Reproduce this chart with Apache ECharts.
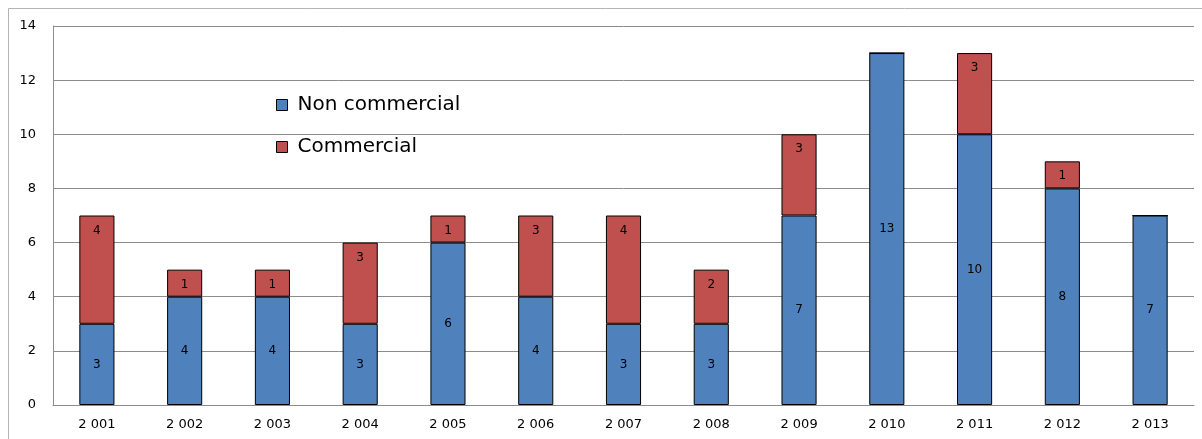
<!DOCTYPE html>
<html>
<head>
<meta charset="utf-8">
<script src="https://cdn.jsdelivr.net/npm/echarts@6/dist/echarts.min.js"></script>
<style>
html, body { margin: 0; padding: 0; background: #fff; }
#chart { width: 1202px; height: 439px; }
</style>
</head>
<body>
<div id="chart"></div>
<script>
// years as they appear on the axis
var years = ['2 001', '2 002', '2 003', '2 004', '2 005', '2 006', '2 007',
             '2 008', '2 009', '2 010', '2 011', '2 012', '2 013'];
var nonCommercial = [3, 4, 4, 3, 6, 4, 3, 3, 7, 13, 10, 8, 7];
var commercial    = [4, 1, 1, 3, 1, 3, 4, 2, 3, 0, 3, 1, 0];
var yTicks = { min: 0, max: 14, interval: 2 };

var chart = echarts.init(document.getElementById('chart'));

function hideZero(p) {
    return p.value === 0 ? '' : p.value;
}

var option = {
    animation: false,
    textStyle: { fontFamily: 'DejaVu Sans' },
    graphic: [{
        type: 'rect',
        shape: { x: 8.5, y: 8.5, width: 1220, height: 460 },
        style: { fill: 'none', stroke: '#b4b4b4', lineWidth: 1 },
        silent: true
    }],
    grid: { left: 53, right: 8, top: 26, bottom: 34 },
    legend: {
        orient: 'vertical',
        left: 271,
        top: 90,
        icon: 'rect',
        itemWidth: 11,
        itemHeight: 11,
        itemGap: 22,
        itemStyle: { borderColor: '#000', borderWidth: 1 },
        data: ['Non commercial', 'Commercial'],
        textStyle: { fontSize: 20, color: '#000', padding: [0, 0, 0, 5] }
    },
    xAxis: {
        type: 'category',
        data: years,
        axisTick: { show: false },
        axisLine: { lineStyle: { color: '#8c8c8c', width: 1 } },
        axisLabel: { color: '#000', fontSize: 13, margin: 13 }
    },
    yAxis: {
        type: 'value',
        min: yTicks.min,
        max: yTicks.max,
        interval: yTicks.interval,
        axisLine: { show: true, lineStyle: { color: '#8c8c8c' } },
        axisTick: { show: true, inside: true, length: 5, lineStyle: { color: '#8c8c8c' } },
        axisLabel: { color: '#000', fontSize: 13, margin: 17 },
        splitLine: { lineStyle: { color: '#8c8c8c', width: 1 } }
    },
    series: [
        {
            name: 'Non commercial',
            type: 'bar',
            stack: 'total',
            barWidth: '40%',
            data: nonCommercial,
            itemStyle: { color: '#4F81BD', borderColor: '#000', borderWidth: 1 },
            label: { show: true, position: 'inside', color: '#000', fontSize: 12, formatter: hideZero }
        },
        {
            name: 'Commercial',
            type: 'bar',
            stack: 'total',
            data: commercial,
            itemStyle: { color: '#C0504D', borderColor: '#000', borderWidth: 1 },
            label: { show: true, position: 'insideTop', distance: 9, color: '#000', fontSize: 12, formatter: hideZero }
        }
    ]
};

chart.setOption(option);
</script>
</body>
</html>
